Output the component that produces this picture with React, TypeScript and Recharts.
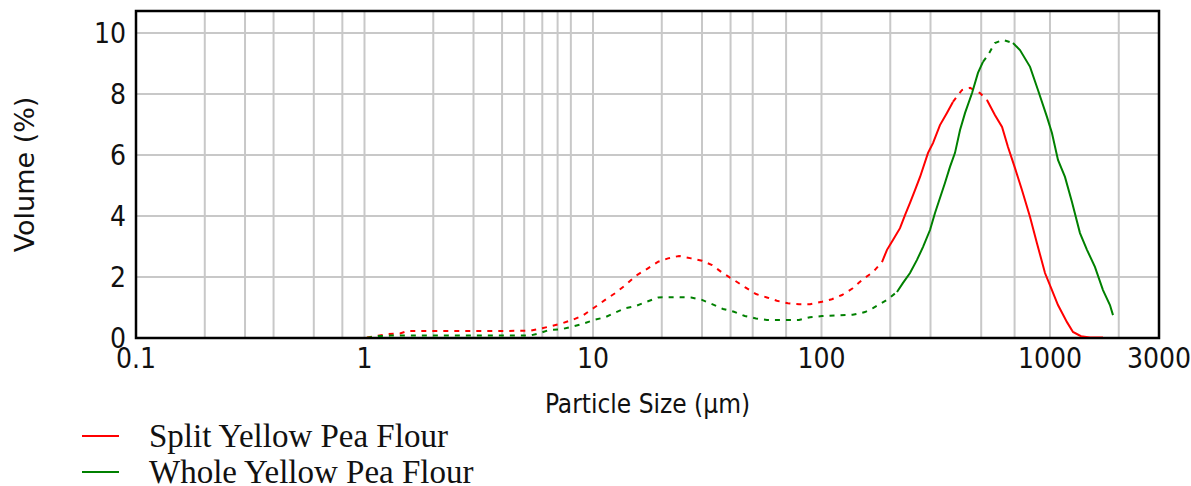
import React from "react";
import {CartesianGrid, Legend, Line, LineChart, ReferenceArea, XAxis, YAxis} from "recharts";

const seriesNames = ["Split Yellow Pea Flour", "Whole Yellow Pea Flour"];
const seriesColors = ["#ff0000", "#008000"];

// particle size (µm) / volume (%)
const splitSizes = [0.1, 1.0, 1.13, 1.27, 1.43, 1.55, 2.5, 4, 5.3, 5.8, 6.4, 7.3, 8.1, 9.0, 10.1, 11.3, 12.5, 13.9,
	15.4, 17.2, 19.3, 21.3, 23.8, 26.9, 30, 33.2, 37.1, 41.4, 46.2, 51.7, 57.7, 63.8, 71.3, 79.7, 89.1, 100.5, 111,
	123, 137, 152, 168, 184, 193.5, 205.5, 220.6, 232, 244, 256.6, 270, 292.6, 307.6, 330, 354, 376, 412, 447, 494,
	530, 574, 617, 655, 703, 754, 818, 877, 951, 1020, 1084, 1187, 1261, 1367, 1497, 1706];
const splitVolumes = [0, 0, 0.07, 0.13, 0.15, 0.23, 0.23, 0.23, 0.24, 0.3, 0.37, 0.48, 0.59, 0.73, 0.99, 1.25, 1.47, 1.74,
	2.04, 2.26, 2.5, 2.61, 2.69, 2.61, 2.53, 2.39, 2.12, 1.9, 1.67, 1.44, 1.33, 1.22, 1.14, 1.11, 1.11, 1.19, 1.27,
	1.41, 1.63, 1.93, 2.16, 2.49, 2.89, 3.21, 3.6, 4.03, 4.43, 4.85, 5.28, 6.07, 6.39, 6.98, 7.38, 7.74, 8.13, 8.2, 8.03,
	7.8, 7.31, 6.92, 6.26, 5.57, 4.85, 3.97, 3.11, 2.13, 1.57, 1.08, 0.52, 0.2, 0.06, 0.02, 0.02];

const wholeSizes = [0.1, 1.0, 1.13, 1.3, 1.55, 3, 5.3, 5.8, 6.4, 7.3, 8.1, 9.0, 10.1, 11.3, 12.5, 13.9, 15.4, 17.2, 19.3,
	23.8, 26.9, 30, 33.2, 37.1, 41.4, 46.2, 51.7, 57.7, 79.7, 89.1, 100.5, 137, 155, 168, 193.5, 214, 227, 244, 261.8,
	278, 298.5, 313.9, 330, 347, 365, 384, 404, 425, 456, 484, 509, 536, 574, 623, 689, 739, 818, 886, 970, 1020, 1084,
	1163, 1248, 1353, 1452, 1573, 1706, 1830, 1887];
const wholeVolumes = [0, 0, 0.06, 0.08, 0.08, 0.08, 0.08, 0.15, 0.26, 0.29, 0.37, 0.46, 0.59, 0.68, 0.83, 0.98, 1.05, 1.19, 1.33,
	1.34, 1.33, 1.25, 1.11, 0.95, 0.86, 0.72, 0.64, 0.59, 0.59, 0.68, 0.72, 0.76, 0.85, 0.98, 1.25, 1.51, 1.8, 2.13, 2.56,
	2.98, 3.54, 4.1, 4.59, 5.08, 5.61, 6.07, 6.82, 7.38, 8.03, 8.69, 9.05, 9.28, 9.67, 9.77, 9.67, 9.44, 8.89, 8.13, 7.25, 6.72, 5.84,
	5.28, 4.46, 3.44, 2.89, 2.33, 1.57, 1.08, 0.75];

const xTicks = [0.1, 1, 10, 100, 1000, 3000];
const yTicks = [0, 2, 4, 6, 8, 10];
const gridSizes = [0.2, 0.3, 0.4, 0.5, 0.6, 0.7, 0.8, 0.9, 1, 2, 3, 4, 5, 6, 7, 8, 9, 10, 20, 30, 40, 50, 60, 70, 80, 90,
	100, 200, 300, 400, 500, 600, 700, 800, 900, 1000, 2000];
const gridVolumes = [2, 4, 6, 8, 10];

// size ranges where the instrument trace looks dotted
const splitDotted = [[0.1, 184], [376, 530]];
const wholeDotted = [[0.1, 214], [509, 689]];

const Y_MAX = 10.72;
const LEGEND_H = 70;
const tickFont = "'Liberation Sans Narrow', 'DejaVu Sans Condensed', sans-serif";
const labelFont = "'DejaVu Sans Condensed', 'DejaVu Sans', sans-serif";

interface Run {
	dotted: boolean;
	points: { size: number, volume: number }[];
}

const buildRuns = (sizes: number[], volumes: number[], dotted: number[][]): Run[] => {
	const isDotted = (a, b) => dotted.some(([lo, hi]) => a >= lo && b <= hi);
	const runs: Run[] = [];
	let cur: Run = null;
	for (let i = 0; i < sizes.length - 1; i++) {
		const d = isDotted(sizes[i], sizes[i + 1]);
		if (!cur || cur.dotted !== d) {
			cur = {dotted: d, points: [{size: sizes[i], volume: volumes[i]}]};
			runs.push(cur);
		}
		cur.points.push({size: sizes[i + 1], volume: volumes[i + 1]});
	}
	return runs;
};

const series = [
	buildRuns(splitSizes, splitVolumes, splitDotted),
	buildRuns(wholeSizes, wholeVolumes, wholeDotted),
];

const XTick = ({x, y, payload}) =>
	<text x={x} y={y + 30} textAnchor="middle" fontFamily={tickFont} fontSize={28} fill="#111">{String(payload.value)}</text>;

const YTick = ({x, y, payload}) =>
	<text x={x - 10} y={y + 10} textAnchor="end" fontFamily={tickFont} fontSize={28} fill="#111">{String(payload.value)}</text>;

const renderLegend = () =>
	<svg width={560} height={LEGEND_H}>
		{seriesNames.map((name, i) => <g key={name}>
			<line x1={0} x2={37} y1={20 + i * 36} y2={20 + i * 36} stroke={seriesColors[i]} strokeWidth={2}/>
			<text x={67} y={31 + i * 36} fontFamily="'Liberation Serif', serif" fontSize={33} fill="#111">{name}</text>
		</g>)}
	</svg>;

export default function App() {
	return <div style={{position: "absolute", left: 0, top: 0}}>
		<LineChart width={1191} height={486} margin={{top: 11, right: 32, left: 76, bottom: 88 - LEGEND_H}}>
			<CartesianGrid verticalValues={gridSizes} horizontalValues={gridVolumes} stroke="#c8c8c8" strokeWidth={2}/>
			<XAxis dataKey="size" type="number" scale="log" domain={[0.1, 3000]} ticks={xTicks} allowDataOverflow
						 height={60} tickSize={0} tickMargin={0} tickLine={false} tick={XTick}
						 axisLine={{stroke: "#000", strokeWidth: 2}}
						 label={({viewBox}) => <text x={viewBox.x + viewBox.width / 2} y={413} textAnchor="middle"
																				 fontFamily={labelFont} fontSize={26} fill="#111">Particle Size (µm)</text>}/>
			<YAxis type="number" domain={[0, Y_MAX]} ticks={yTicks} allowDataOverflow width={60} tickSize={0} tickMargin={0}
						 tickLine={false} tick={YTick} axisLine={{stroke: "#000", strokeWidth: 2}}
						 label={({viewBox}) => <text x={34} y={viewBox.y + viewBox.height / 2} textAnchor="middle"
																				 transform={`rotate(-90 34 ${viewBox.y + viewBox.height / 2})`}
																				 fontFamily="'DejaVu Sans', sans-serif" fontSize={27} fill="#111">Volume (%)</text>}/>
			<ReferenceArea x1={0.1} x2={3000} y1={0} y2={Y_MAX} fill="none" stroke="#000" strokeWidth={2.5} ifOverflow="visible"/>
			{series.map((runs, s) => runs.map((run, r) =>
				<Line key={`${s}-${r}`} data={run.points} dataKey="volume" type="linear" stroke={seriesColors[s]} strokeWidth={2}
							strokeDasharray={run.dotted ? "5 6" : undefined} dot={false} activeDot={false} legendType="none"
							isAnimationActive={false}/>))}
			<Legend layout="vertical" verticalAlign="bottom" align="center" content={renderLegend}
							wrapperStyle={{left: 82, top: 416, width: 560, height: LEGEND_H, bottom: "auto"}}/>
		</LineChart>
	</div>;
}
